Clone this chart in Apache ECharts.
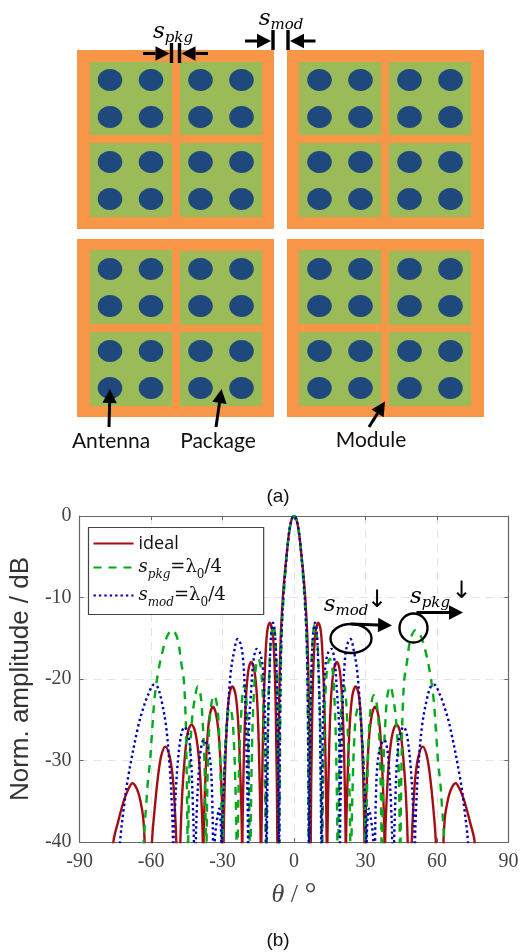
<!DOCTYPE html>
<html><head><meta charset="utf-8">
<style>html,body{margin:0;padding:0;background:#fff}#c{width:522px;height:952px}</style>
<script src="https://cdn.jsdelivr.net/npm/echarts@6/dist/echarts.min.js"></script>
</head><body><div id="c"></div>
<script>
const xTicks = [-90,-60,-30,0,30,60,90];
const yTicks = [0,-10,-20,-30,-40];
const seriesNames = ['ideal','s_pkg=λ0/4','s_mod=λ0/4'];

const ideal = [[-90,-55],[-78,-50],[-75.8,-40],[-73.8,-37.5],[-71.5,-35],[-69.5,-33.5],[-67.8,-32.8],[-65.8,-33.6],[-64.3,-35.2],[-63.3,-37],[-62.7,-40],[-61,-55],
[-59.6,-40],[-58.5,-36],[-57.1,-32],[-55.7,-29.4],[-54,-28.3],[-52.3,-29.4],[-50.9,-32],[-50,-36],[-49.4,-40],[-48.6,-52],
[-47.7,-40],[-46.9,-34],[-45.8,-29.5],[-44.6,-26.6],[-43,-25.6],[-41.4,-26.6],[-40,-29.5],[-39,-34],[-38.3,-40],[-38.1,-52],
[-37.95,-40],[-37.3,-33],[-36.4,-27.5],[-35.4,-24.5],[-34,-23.4],[-32.6,-24.5],[-31.4,-27.5],[-30.5,-33],[-29.75,-40],[-29.65,-52],
[-29.55,-40],[-29,-32],[-28.2,-25.5],[-27.2,-22],[-25.9,-20.9],[-24.5,-22],[-23.4,-25.5],[-22.5,-32],[-21.85,-40],[-21.75,-52],
[-21.65,-40],[-21,-29],[-20.2,-22.5],[-19.2,-19],[-18,-17.9],[-16.6,-19],[-15.5,-22.5],[-14.7,-29],[-14,-40],[-13.85,-52],
[-13.7,-40],[-12.9,-25],[-12.1,-18],[-11.3,-14.3],[-10.2,-13.1],[-9,-14.3],[-8.2,-18],[-7.6,-25],[-7,-40],[-6.95,-52],
[-6.9,-40],[-6.3,-24],[-5.6,-15],[-4.7,-10],[-3.8,-6.8],[-2.8,-3.9],[-2,-1.9],[-1,-0.4],[0,0],[1,-0.4],[2,-1.9],[2.8,-3.9],[3.8,-6.8],[4.7,-10],[5.6,-15],[6.3,-24],[6.9,-40],
[6.95,-52],[7,-40],[7.6,-25],[8.2,-18],[9,-14.3],[10.2,-13.1],[11.3,-14.3],[12.1,-18],[12.9,-25],[13.7,-40],
[13.85,-52],[14,-40],[14.7,-29],[15.5,-22.5],[16.6,-19],[18,-17.9],[19.2,-19],[20.2,-22.5],[21,-29],[21.65,-40],
[21.75,-52],[21.85,-40],[22.5,-32],[23.4,-25.5],[24.5,-22],[25.9,-20.9],[27.2,-22],[28.2,-25.5],[29,-32],[29.55,-40],
[29.65,-52],[29.75,-40],[30.5,-33],[31.4,-27.5],[32.6,-24.5],[34,-23.4],[35.4,-24.5],[36.4,-27.5],[37.3,-33],[37.95,-40],
[38.1,-52],[38.25,-40],[39,-34],[40,-29.5],[41.4,-26.6],[43,-25.6],[44.6,-26.6],[45.8,-29.5],[46.9,-34],[47.7,-40],
[48.6,-52],[49.4,-40],[50,-36],[50.9,-32],[52.3,-29.4],[54,-28.3],[55.7,-29.4],[57.1,-32],[58.5,-36],[59.5,-40],
[61,-55],[62.7,-40],[63.3,-37],[64.3,-35.2],[65.8,-33.6],[67.8,-32.8],[69.5,-33.5],[71.5,-35],[73.8,-37.5],[75.8,-40],[78,-50],[90,-55]];

const sPkg = [[-90,-55],[-65,-50],[-63.1,-40],[-62.8,-38.5],[-62,-35.3],[-61.4,-32.8],[-60.4,-30],[-59.7,-27],[-58.5,-22.3],[-56.9,-19],[-55,-16.4],[-53,-14.6],[-51,-14],[-48.8,-15.2],[-47.4,-17.9],[-46.3,-20],[-45.7,-23],[-45.3,-27],[-44.7,-40],[-44.55,-52],
[-44.4,-40],[-43.8,-30],[-42.8,-25],[-41.7,-22.5],[-40.4,-20.9],[-39.2,-22],[-38.2,-26],[-37.6,-30],[-37,-40],[-36.85,-52],
[-36.7,-40],[-36.2,-31],[-35.5,-25.5],[-34.6,-22.9],[-33.5,-22],[-32.5,-22.9],[-31.6,-25.5],[-30.9,-31],[-30.2,-40],[-30.05,-52],
[-29.9,-40],[-29.4,-32],[-28.7,-27.3],[-28,-24.5],[-27,-23.5],[-26,-24.5],[-25.3,-27.3],[-24.7,-32],[-24.1,-40],[-23.85,-52],
[-23.6,-40],[-23,-30],[-22.3,-25],[-21.6,-21.8],[-20.9,-20.8],[-20.2,-21.8],[-19.6,-25],[-19.1,-30],[-18.6,-40],[-18.4,-52],
[-18.2,-40],[-17.6,-28],[-16.8,-21.5],[-16,-18.5],[-15,-17.5],[-14,-18.5],[-13.2,-21.5],[-12.5,-28],[-11.9,-40],[-11.7,-52],
[-11.5,-40],[-11,-26],[-10.3,-18.5],[-9.6,-14.8],[-8.7,-13.3],[-7.9,-14.8],[-7.3,-18.5],[-6.8,-25],[-6.3,-40],[-6.2,-52],
[-6.1,-40],[-5.7,-22],[-5.2,-14.5],[-4.5,-10.5],[-3.6,-6.8],[-2.8,-3.9],[-2,-1.9],[-1,-0.4],[0,0],[1,-0.4],[2,-1.9],[2.8,-3.9],[3.6,-6.8],[4.5,-10.5],[5.2,-14.5],[5.7,-22],[6.1,-40],
[6.2,-52],[6.3,-40],[6.8,-25],[7.3,-18.5],[7.9,-14.8],[8.7,-13.3],[9.6,-14.8],[10.3,-18.5],[11,-26],[11.5,-40],
[11.7,-52],[11.9,-40],[12.5,-28],[13.2,-21.5],[14,-18.5],[15,-17.5],[16,-18.5],[16.8,-21.5],[17.6,-28],[18.2,-40],
[18.4,-52],[18.6,-40],[19.1,-30],[19.6,-25],[20.2,-21.8],[20.9,-20.8],[21.6,-21.8],[22.3,-25],[23,-30],[23.6,-40],
[23.85,-52],[24.1,-40],[24.7,-32],[25.3,-27.3],[26,-24.5],[27,-23.5],[28,-24.5],[28.7,-27.3],[29.4,-32],[29.9,-40],
[30.05,-52],[30.2,-40],[30.9,-31],[31.6,-25.5],[32.5,-22.9],[33.5,-22],[34.6,-22.9],[35.5,-25.5],[36.2,-31],[36.7,-40],
[36.85,-52],[37,-40],[37.6,-30],[38.2,-26],[39.2,-22],[40.4,-20.9],[41.7,-22.5],[42.8,-25],[43.8,-30],[44.4,-40],
[44.55,-52],[44.7,-40],[45.3,-27],[45.7,-23],[46.3,-20],[47.4,-17.9],[48.8,-15.2],[51,-14],[53,-14.6],[55,-16.4],[56.9,-19],[58.5,-22.3],[59.7,-27],[60.4,-30],[61.4,-32.8],[62,-35.3],[62.8,-38.5],[63.1,-40],[65,-50],[90,-55]];

const sMod = [[-90,-55],[-75,-50],[-73,-40],[-71.5,-36],[-69.6,-32],[-65.4,-25.8],[-63.3,-23.6],[-61.3,-22],[-58.8,-20.7],[-57.4,-20.9],[-55.8,-22.4],[-53.7,-25.8],[-52,-31.5],[-51.2,-36],[-50.8,-40],[-50.7,-50],
[-50.6,-40],[-50,-36],[-49,-31],[-47.4,-26.9],[-46,-25.9],[-44.4,-26.8],[-43.2,-30],[-42.5,-35],[-42,-40],[-41.6,-50],
[-41.2,-40],[-40.8,-36],[-40,-31.5],[-39.2,-28.8],[-37.9,-27.5],[-36.2,-28.3],[-35,-30.5],[-34.4,-34],[-34,-40],[-33.7,-50],
[-33.3,-40],[-32.2,-37],[-31.4,-35.9],[-30.8,-37.5],[-30.5,-40],[-30.4,-50],
[-30.3,-40],[-29.4,-32.4],[-28.2,-25.8],[-26.6,-19.3],[-25,-16.4],[-23.7,-15.1],[-22.4,-15.7],[-21.4,-17.5],[-20.6,-21.5],[-20,-28],[-19.3,-40],[-19.25,-50],
[-19.2,-40],[-18.9,-26],[-18,-21.5],[-17.1,-18],[-15.7,-16.3],[-14.4,-16.7],[-13.2,-18.3],[-12.6,-21],[-12,-27],[-11.7,-40],[-11.55,-52],
[-11.4,-40],[-10.9,-26],[-10.2,-18.5],[-9.6,-14.5],[-8.8,-13.1],[-8,-14.5],[-7.4,-18.5],[-6.9,-26],[-6.4,-40],[-6.3,-52],
[-6.2,-40],[-5.8,-23],[-5.3,-15],[-4.5,-10],[-3.7,-6.8],[-2.8,-3.9],[-2,-1.9],[-1,-0.4],[0,0],[1,-0.4],[2,-1.9],[2.8,-3.9],[3.7,-6.8],[4.5,-10],[5.3,-15],[5.8,-23],[6.2,-40],
[6.3,-52],[6.4,-40],[6.9,-26],[7.4,-18.5],[8,-14.5],[8.8,-13.1],[9.6,-14.5],[10.2,-18.5],[10.9,-26],[11.4,-40],
[11.55,-52],[11.7,-40],[12,-27],[12.6,-21],[13.2,-18.3],[14.4,-16.7],[15.7,-16.3],[17.1,-18],[18,-21.5],[18.9,-26],[19.2,-40],
[19.25,-50],[19.3,-40],[20,-28],[20.6,-21.5],[21.4,-17.5],[22.4,-15.7],[23.7,-15.1],[25,-16.4],[26.6,-19.3],[28.2,-25.8],[29.4,-32.4],[30.3,-40],
[30.4,-50],[30.5,-40],[30.8,-37.5],[31.4,-35.9],[32.2,-37],[33.3,-40],
[33.7,-50],[34,-40],[34.4,-34],[35,-30.5],[36.2,-28.3],[37.9,-27.5],[39.2,-28.8],[40,-31.5],[40.8,-36],[41.2,-40],
[41.6,-50],[42,-40],[42.5,-35],[43.2,-30],[44.4,-26.8],[46,-25.9],[47.4,-26.9],[49,-31],[50,-36],[50.6,-40],
[50.7,-50],[50.8,-40],[51.2,-36],[52,-31.5],[53.7,-25.8],[55.8,-22.4],[57.4,-20.9],[58.8,-20.7],[61.3,-22],[63.3,-23.6],[65.4,-25.8],[69.6,-32],[71.5,-36],[73,-40],[75,-50],[90,-55]];

// Schematic layout (page pixels on a hidden overlay axis)
const modules = [[77,50,274,229],[287,50,484,229],[77,239,274,417],[287,239,484,417]];
const packages = [[90,62,172,135],[180,62,262,135],[90,143,172,217],[180,143,262,217],
[299,62,381,135],[389,62,471,135],[299,143,381,217],[389,143,471,217],
[90,250,172,324],[180,251,262,325],[90,332,172,406],[180,332,262,406],
[299,250,381,324],[389,251,471,325],[299,332,381,406],[389,332,471,406]];
const antennas = [];
[110,151,200.5,241.5,319.5,360.5,409.5,450.5].forEach(x=>{[80,117,162,199,269,306,351,388].forEach(y=>antennas.push([x,y]));});
const bars = [[171.5,43,171.5,63],[179.5,43,179.5,63],[273,30,273,50],[288,30,288,50]];
const arrows = [[143,53.5,169.5,53.5],[208,53.5,181.5,53.5],[245,41,271,41],[315.5,41,290,41],
[109,427,110,389],[216,427,221.5,389],[369,427,385,401.5],[351,624,392,625.5],[416.5,612.5,463,612.5]];
const rings = [[351,638.5,20.5,14.5],[413.5,628,14,14.5]];
const serif = '"DejaVu Serif"', lib = '"Liberation Serif"';
const mathRich = {
  i:{fontFamily:serif,fontStyle:'italic',fontSize:23,color:'#111',lineHeight:28,verticalAlign:'middle'},
  b:{fontFamily:serif,fontStyle:'italic',fontSize:15,color:'#111',lineHeight:14,verticalAlign:'bottom',padding:[8,0,0,0]},
  s:{fontFamily:'"DejaVu Sans"',fontSize:24,color:'#111',lineHeight:28,verticalAlign:'middle'}
};
const labels = [
 {x:173,y:32,t:'{i|s}{b|pkg}'},
 {x:281,y:19,t:'{i|s}{b|mod}'},
 {x:346,y:605,t:'{i|s}{b|mod}'},
 {x:430,y:597,t:'{i|s}{b|pkg}'},
 {x:377,y:601,t:'{s|↓}'},
 {x:461.5,y:592,t:'{s|↓}'}
];
const words = [
 {x:111,y:441,t:'Antenna',f:'Lato',z:21},{x:218,y:441,t:'Package',f:'Lato',z:21},{x:371,y:440,t:'Module',f:'Lato',z:21},
 {x:278,y:497,t:'(a)',f:'"Liberation Sans"',z:19},{x:278,y:941,t:'(b)',f:'"Liberation Sans"',z:19}
];
function custom(data,fn,z){return {type:'custom',xAxisIndex:2,yAxisIndex:2,coordinateSystem:'cartesian2d',clip:false,silent:true,z:z||3,
 data:data.map((d,i)=>[i]),encode:{x:0,y:0},renderItem:(p,api)=>fn(data[p.dataIndex],api)};}
const rect=(col)=>(d,api)=>{const a=api.coord([d[0],d[1]]),b=api.coord([d[2],d[3]]);return {type:'rect',shape:{x:a[0],y:a[1],width:b[0]-a[0],height:b[1]-a[1]},style:{fill:col}};};
const chart = echarts.init(document.getElementById('c'),null,{renderer:'canvas'});
const titleTheta = '{t|θ}{n| / }{d|°}';
chart.setOption({
 animation:false,backgroundColor:'#fff',
 grid:[{left:77.5,top:516,width:431,height:326,containLabel:false},{left:0,top:0,width:522,height:952}],
 legend:{show:true,data:seriesNames,orient:'vertical',left:88.5,top:527.5,itemWidth:40,itemHeight:4,itemGap:6,padding:[7,38,6,4],
  backgroundColor:'#fff',borderColor:'#444',borderWidth:1.2,selectedMode:false,z:6,
  itemStyle:{color:'transparent',borderWidth:0},
  formatter:n=>n==='ideal'?'{w|ideal}':(n.indexOf('pkg')>0?'{i|s}{b|pkg}{a|=λ}{c|0}{a|/4}':'{i|s}{b|mod}{a|=λ}{c|0}{a|/4}'),
  textStyle:{fontSize:18,color:'#111',padding:[0,0,0,0],rich:{
    w:{fontFamily:'"Open Sans"',fontSize:18,color:'#111',lineHeight:26},
    i:{fontFamily:serif,fontStyle:'italic',fontSize:18,color:'#111',lineHeight:26},
    b:{fontFamily:serif,fontStyle:'italic',fontSize:12,color:'#111',lineHeight:26,verticalAlign:'bottom'},
    a:{fontFamily:serif,fontSize:18,color:'#111',lineHeight:26},
    c:{fontFamily:serif,fontSize:12,color:'#111',lineHeight:26,verticalAlign:'bottom'}}}},
 xAxis:[
  {type:'value',min:-90,max:90,interval:30,gridIndex:0,position:'bottom',
   axisLine:{onZero:false,lineStyle:{color:'#666',width:1.2}},axisTick:{inside:true,length:4,lineStyle:{color:'#666'}},
   axisLabel:{fontFamily:lib,fontSize:20,color:'#444',margin:10,showMinLabel:true,showMaxLabel:true,customValues:xTicks,formatter:v=>String(v)},
   splitLine:{show:true,lineStyle:{color:'#e4e4e4',type:[8,6],width:1}},
   name:titleTheta,nameLocation:'middle',nameGap:38,
   nameTextStyle:{rich:{t:{fontFamily:lib,fontStyle:'italic',fontSize:26,color:'#444'},n:{fontFamily:lib,fontSize:26,color:'#444'},d:{fontFamily:lib,fontSize:30,color:'#444'}}}},
  {type:'value',min:-90,max:90,interval:30,gridIndex:0,position:'top',
   axisLine:{onZero:false,lineStyle:{color:'#666',width:1.2}},axisTick:{inside:true,length:4,lineStyle:{color:'#666'}},axisLabel:{show:false},splitLine:{show:false}},
  {type:'value',min:0,max:522,gridIndex:1,show:false}],
 yAxis:[
  {type:'value',min:-40,max:0,interval:10,gridIndex:0,position:'left',
   axisLine:{onZero:false,lineStyle:{color:'#666',width:1.2}},axisTick:{inside:true,length:4,lineStyle:{color:'#666'}},
   axisLabel:{fontFamily:lib,fontSize:20,color:'#444',margin:8,customValues:yTicks,formatter:v=>String(v)},
   splitLine:{show:true,lineStyle:{color:'#e4e4e4',type:[8,6],width:1}},
   name:'Norm. amplitude / dB',nameLocation:'middle',nameGap:38,nameTextStyle:{fontFamily:'"Liberation Sans"',fontSize:26,color:'#333'}},
  {type:'value',min:-40,max:0,interval:10,gridIndex:0,position:'right',
   axisLine:{onZero:false,lineStyle:{color:'#666',width:1.2}},axisTick:{inside:true,length:4,lineStyle:{color:'#666'}},axisLabel:{show:false},splitLine:{show:false}},
  {type:'value',min:0,max:952,inverse:true,gridIndex:1,show:false}],
 series:[
  {name:seriesNames[0],type:'line',xAxisIndex:0,yAxisIndex:0,data:ideal,showSymbol:false,symbol:'none',smooth:0.35,lineStyle:{color:'#a50d14',width:2.4},itemStyle:{color:'#a50d14'},z:2},
  {name:seriesNames[1],type:'line',xAxisIndex:0,yAxisIndex:0,data:sPkg,showSymbol:false,symbol:'none',smooth:0.35,lineStyle:{color:'#00aa18',width:2.4,type:[8,7]},itemStyle:{color:'#00aa18'},z:2},
  {name:seriesNames[2],type:'line',xAxisIndex:0,yAxisIndex:0,data:sMod,showSymbol:false,symbol:'none',smooth:0.35,lineStyle:{color:'#0000b4',width:2.4,type:[2.4,3]},itemStyle:{color:'#0000b4'},z:2},
  custom(modules,rect('#f79646')),
  custom(packages,rect('#9bbb59')),
  custom(antennas,(d,api)=>{const a=api.coord(d);return {type:'ellipse',shape:{cx:a[0],cy:a[1],rx:12.3,ry:11},style:{fill:'#1f497d'}};}),
  custom(bars,(d,api)=>{const a=api.coord([d[0],d[1]]),b=api.coord([d[2],d[3]]);return {type:'line',shape:{x1:a[0],y1:a[1],x2:b[0],y2:b[1]},style:{stroke:'#000',lineWidth:3.4}};},5),
  custom(arrows,(d,api)=>{const a=api.coord([d[0],d[1]]),b=api.coord([d[2],d[3]]);
    const dx=b[0]-a[0],dy=b[1]-a[1],L=Math.hypot(dx,dy),ux=dx/L,uy=dy/L,h=14,w=7.2,bx=b[0]-ux*h,by=b[1]-uy*h;
    return {type:'group',children:[
      {type:'line',shape:{x1:a[0],y1:a[1],x2:bx,y2:by},style:{stroke:'#000',lineWidth:3}},
      {type:'polygon',shape:{points:[[b[0],b[1]],[bx-uy*w,by+ux*w],[bx+uy*w,by-ux*w]]},style:{fill:'#000'}}]};},5),
  custom(rings,(d,api)=>{const a=api.coord(d);return {type:'ellipse',shape:{cx:a[0],cy:a[1],rx:d[2],ry:d[3]},style:{fill:'none',stroke:'#000',lineWidth:2.4}};},5),
  custom(labels,(d,api)=>{const a=api.coord([d.x,d.y]);return {type:'text',style:{text:d.t,x:a[0],y:a[1],align:'center',verticalAlign:'middle',rich:mathRich}};},5),
  custom(words,(d,api)=>{const a=api.coord([d.x,d.y]);return {type:'text',style:{text:d.t,x:a[0],y:a[1],align:'center',verticalAlign:'middle',fontFamily:d.f,fontSize:d.z,fill:'#111'}};},5)
 ]
});
</script></body></html>
